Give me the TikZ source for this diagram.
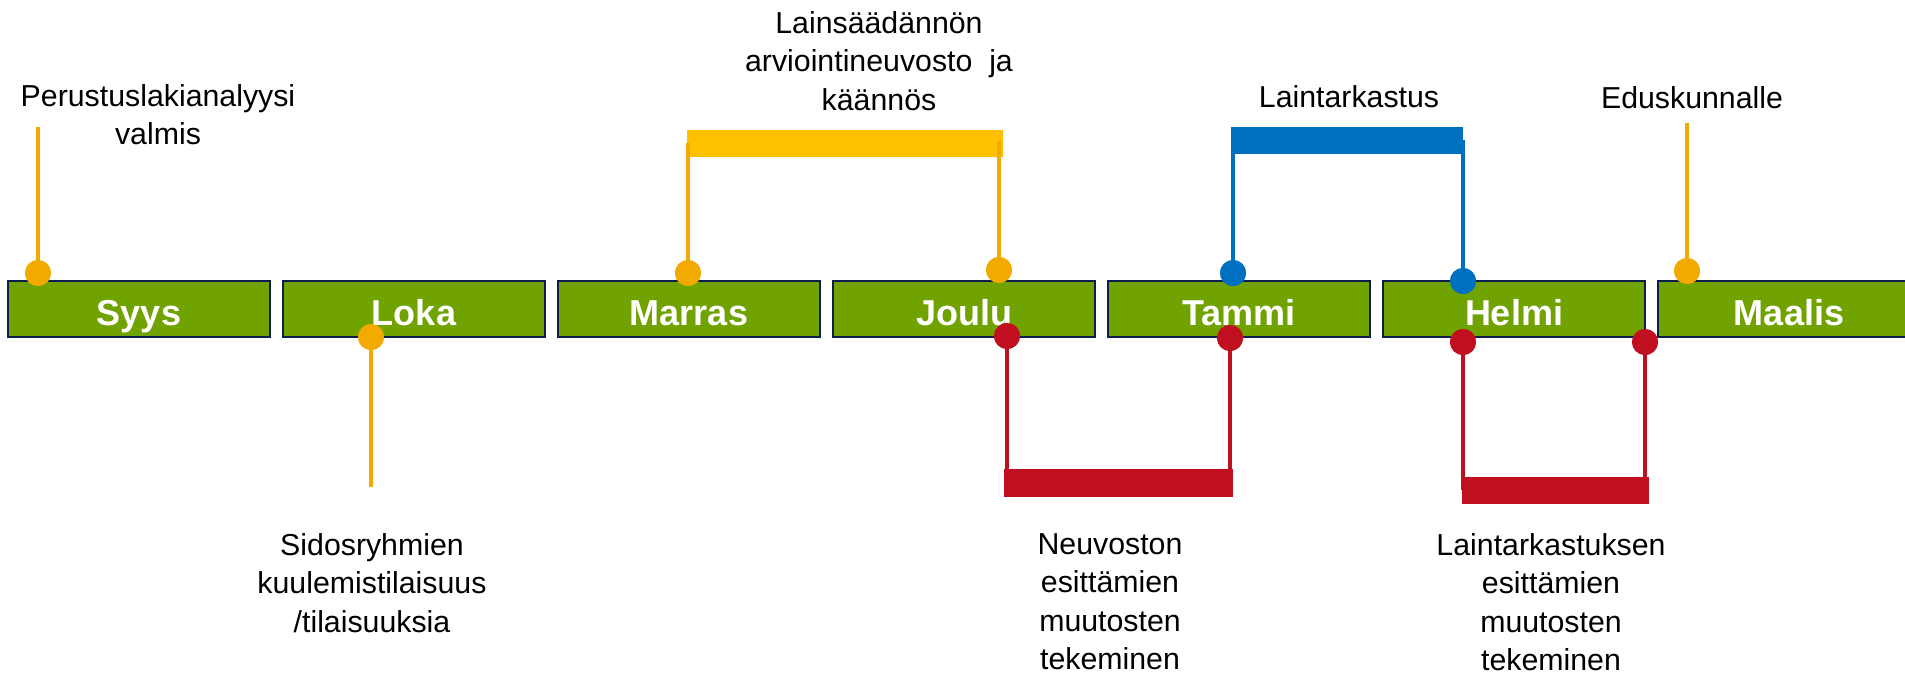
\documentclass[tikz,border=0pt]{standalone}
\usepackage{fontspec}
\setmainfont{Liberation Sans}
\usetikzlibrary{calc, positioning}
\definecolor{monthgreen}{RGB}{113,163,0}
\definecolor{boxnavy}{RGB}{12,30,75}
\definecolor{dotyellow}{RGB}{242,169,0}
\definecolor{baryellow}{RGB}{255,192,0}
\definecolor{lawblue}{RGB}{0,112,192}
\definecolor{govred}{RGB}{192,16,32}
\tikzstyle{month} = [draw=boxnavy, line width=2pt, fill=monthgreen, minimum width=262pt, minimum height=56pt, inner sep=0pt, text=white, font=\fontsize{36}{40}\selectfont\bfseries, text height=32pt, text depth=0pt]
\tikzstyle{dot} = [circle, inner sep=0pt, minimum size=26pt]
\tikzstyle{note} = [align=center, anchor=north, inner sep=0pt, font=\fontsize{30.3}{38.5}\selectfont]
\tikzstyle{bar} = [inner sep=0pt, minimum height=27pt]

\begin{document}
\begin{tikzpicture}[x=1pt, y=-1pt]
  \useasboundingbox (0,0) rectangle (1905,675);

  % months
  \node[month] (syys) at (139,309) {Syys};
  \node[month, right=11pt of syys] (loka) {Loka};
  \node[month, right=11pt of loka] (marras) {Marras};
  \node[month, right=11pt of marras] (joulu) {Joulu};
  \node[month, right=11pt of joulu] (tammi) {Tammi};
  \node[month, right=11pt of tammi] (helmi) {Helmi};
  \node[month, right=11pt of helmi] (maalis) {Maalis};

  % texts
  \node[note] (perustus) at (158,84) {Perustuslakianalyysi\\valmis};
  \node[note] (arviointi) at (879,11) {Lainsäädännön\\arviointineuvosto\ \ ja\\käännös};
  \node[note] (laintark) at (1349,85) {Laintarkastus};
  \node[note] (eduskunta) at (1692,86) {Eduskunnalle};
  \node[note] (sidos) at (372,533) {Sidosryhmien\\kuulemistilaisuus\\/tilaisuuksia};
  \node[note] (neuvosto) at (1110,533) {Neuvoston\\esittämien\\muutosten\\tekeminen};
  \node[note] (muutokset) at (1551,533) {Laintarkastuksen\\esittämien\\muutosten\\tekeminen};

  % bars
  \node[bar, fill=baryellow, minimum width=316pt] (arvbar) at (845,143.5) {};
  \node[bar, fill=lawblue, minimum width=232pt] (tarkbar) at (1347,140) {};
  \node[bar, fill=govred, minimum width=229pt, minimum height=28pt] (neuvbar) at (1118.5,483) {};
  \node[bar, fill=govred, minimum width=187pt] (muutbar) at (1555.5,490) {};

  % dots
  \node[dot, fill=dotyellow] (syysdot) at (38,273) {};
  \node[dot, fill=dotyellow] (lokadot) at (371,337) {};
  \node[dot, fill=dotyellow] (marrasdot) at (688,273) {};
  \node[dot, fill=dotyellow] (jouludot) at (999,270) {};
  \node[dot, fill=dotyellow] (maalisdot) at (1687,271) {};
  \node[dot, fill=lawblue] (tammidot) at (1233,273) {};
  \node[dot, fill=lawblue] (helmidot) at (1463,281) {};
  \node[dot, fill=govred] (jouludown) at (1007,336) {};
  \node[dot, fill=govred] (tammidown) at (1230,338) {};
  \node[dot, fill=govred] (helmidown) at (1463,342) {};
  \node[dot, fill=govred] (maalisdown) at (1645,342) {};

  \coordinate (syystop) at (38,127);
  \coordinate (lokaend) at (371,487);
  \coordinate (maalistop) at (1687,123);

  % stems
  \draw[dotyellow, line width=4pt] (syysdot.center) -- (syystop);
  \draw[dotyellow, line width=4pt] (lokadot.center) -- (lokaend);
  \draw[dotyellow, line width=4pt] (maalisdot.center) -- (maalistop);
  \draw[dotyellow, line width=3.5pt] (marrasdot.center) -- ($(marrasdot |- arvbar.north)+(0,13)$);
  \draw[dotyellow, line width=3.5pt] (jouludot.center) -- ($(jouludot |- arvbar.north)+(0,11)$);
  \draw[lawblue, line width=3.5pt] (tammidot.center) -- (tammidot |- tarkbar.center);
  \draw[lawblue, line width=3.5pt] (helmidot.center) -- (helmidot |- tarkbar.center);
  \draw[govred, line width=3.5pt] (jouludown.center) -- (jouludown |- neuvbar.center);
  \draw[govred, line width=3.5pt] (tammidown.center) -- (tammidown |- neuvbar.center);
  \draw[govred, line width=3.5pt] (helmidown.center) -- (helmidown |- muutbar.center);
  \draw[govred, line width=3.5pt] (maalisdown.center) -- (maalisdown |- muutbar.center);

  % dots again on top of stems
  \foreach \d/\c in {syysdot/dotyellow, lokadot/dotyellow, marrasdot/dotyellow, jouludot/dotyellow, maalisdot/dotyellow, tammidot/lawblue, helmidot/lawblue, jouludown/govred, tammidown/govred, helmidown/govred, maalisdown/govred}
    \fill[\c] (\d) circle (13pt);

\end{tikzpicture}
\end{document}
